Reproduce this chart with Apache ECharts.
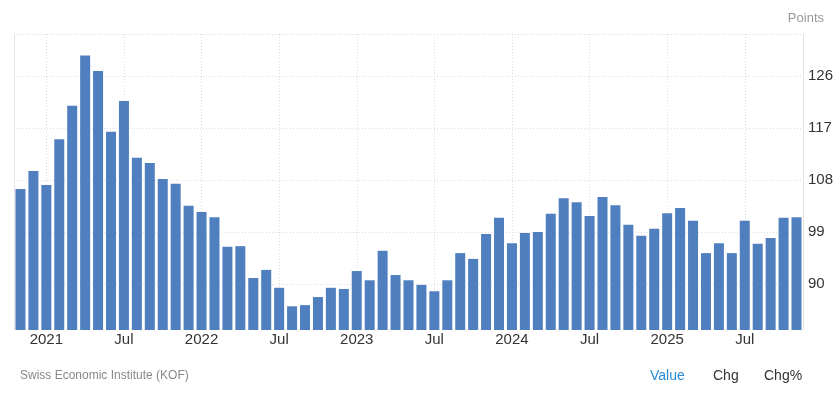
<!DOCTYPE html>
<html>
<head>
<meta charset="utf-8">
<script src="https://cdn.jsdelivr.net/npm/echarts@6/dist/echarts.min.js"></script>
<style>
html,body{margin:0;padding:0;background:#fff;}
#chart{width:836px;height:396px;}
</style>
</head>
<body>
<div id="chart"></div>
<script>
const categories = [
  '2020-11','2020-12',
  '2021-01','2021-02','2021-03','2021-04','2021-05','2021-06','2021-07','2021-08','2021-09','2021-10','2021-11','2021-12',
  '2022-01','2022-02','2022-03','2022-04','2022-05','2022-06','2022-07','2022-08','2022-09','2022-10','2022-11','2022-12',
  '2023-01','2023-02','2023-03','2023-04','2023-05','2023-06','2023-07','2023-08','2023-09','2023-10','2023-11','2023-12',
  '2024-01','2024-02','2024-03','2024-04','2024-05','2024-06','2024-07','2024-08','2024-09','2024-10','2024-11','2024-12',
  '2025-01','2025-02','2025-03','2025-04','2025-05','2025-06','2025-07','2025-08','2025-09','2025-10','2025-11'
];
const values = [
  106.5, 109.6,
  107.2, 115.1, 120.9, 129.6, 126.9, 116.4, 121.7, 111.9, 111.0, 108.2, 107.4, 103.6,
  102.5, 101.6, 96.5, 96.6, 91.1, 92.5, 89.4, 86.2, 86.4, 87.8, 89.4, 89.2,
  92.3, 90.7, 95.8, 91.6, 90.7, 89.9, 88.8, 90.7, 95.4, 94.4, 98.7, 101.5,
  97.1, 98.9, 99.05, 102.2, 104.9, 104.2, 101.8, 105.1, 103.7, 100.3, 98.4, 99.6,
  102.3, 103.2, 101.0, 95.4, 97.1, 95.4, 101.0, 97.0, 98.0, 101.5, 101.6
];
const yTickLabels = [90, 99, 108, 117, 126];
const yMin = 82.1;
const yMax = 133.3;
const unitLabel = 'Points';
const sourceText = 'Swiss Economic Institute (KOF)';
const buttons = ['Value', 'Chg', 'Chg%'];

function xLabel(cat) {
  const parts = cat.split('-');
  if (parts[1] === '01') return parts[0];
  if (parts[1] === '07') return 'Jul';
  return '';
}
const xTickIdx = [];
categories.forEach((c, i) => { if (xLabel(c) !== '') xTickIdx.push(i); });

const FONT = "'Liberation Sans', Arial, sans-serif";
const chart = echarts.init(document.getElementById('chart'), null, {renderer: 'canvas'});
chart.setOption({
  animation: false,
  backgroundColor: '#ffffff',
  grid: {left: 14, right: 32, top: 34, bottom: 66, containLabel: false},
  title: {
    text: unitLabel, right: 7, top: 7,
    textStyle: {color: '#999', fontSize: 13, fontWeight: 'normal', fontFamily: FONT}
  },
  xAxis: [{
    type: 'category',
    data: categories,
    boundaryGap: true,
    axisLine: {show: false, onZero: false},
    axisTick: {show: false},
    splitLine: {show: false},
    axisLabel: {
      interval: function (i, v) { return xLabel(v) !== ''; },
      formatter: function (v) { return xLabel(v); },
      color: '#333', fontSize: 15, fontFamily: FONT, margin: 2
    }
  }, {
    type: 'value',
    position: 'top',
    min: -0.5,
    max: categories.length - 0.5,
    axisLine: {show: false, onZero: false},
    axisLabel: {show: false},
    axisTick: {show: false, customValues: xTickIdx},
    splitLine: {show: true, lineStyle: {color: '#dcdcdc', type: [1, 2], width: 1}}
  }],
  yAxis: [{
    type: 'value',
    position: 'right',
    min: yMin,
    max: yMax,
    axisLine: {show: true, onZero: false, lineStyle: {color: '#e3e3e3', width: 1}},
    axisTick: {show: false, customValues: yTickLabels.concat([yMax])},
    axisLabel: {
      customValues: yTickLabels,
      color: '#333', fontSize: 15, fontFamily: FONT, margin: 5
    },
    splitLine: {show: true, lineStyle: {color: '#dcdcdc', type: [1, 2], width: 1}}
  }, {
    type: 'value',
    position: 'left',
    min: yMin,
    max: yMax,
    axisLine: {show: true, onZero: false, lineStyle: {color: '#e3e3e3', width: 1}},
    axisTick: {show: false},
    axisLabel: {show: false},
    splitLine: {show: false}
  }],
  series: [{
    type: 'bar',
    xAxisIndex: 0,
    yAxisIndex: 0,
    data: values,
    barWidth: 10,
    itemStyle: {color: '#4f7fbf'}
  }],
  graphic: [
    {type: 'text', left: 20, top: 370, style: {text: sourceText, fill: '#888', font: '12px ' + FONT}},
    {type: 'text', left: 650, top: 369, style: {text: buttons[0], fill: '#2a8ad4', font: '14px ' + FONT}},
    {type: 'text', left: 713, top: 369, style: {text: buttons[1], fill: '#333', font: '14px ' + FONT}},
    {type: 'text', left: 764, top: 369, style: {text: buttons[2], fill: '#333', font: '14px ' + FONT}}
  ]
});
</script>
</body>
</html>
